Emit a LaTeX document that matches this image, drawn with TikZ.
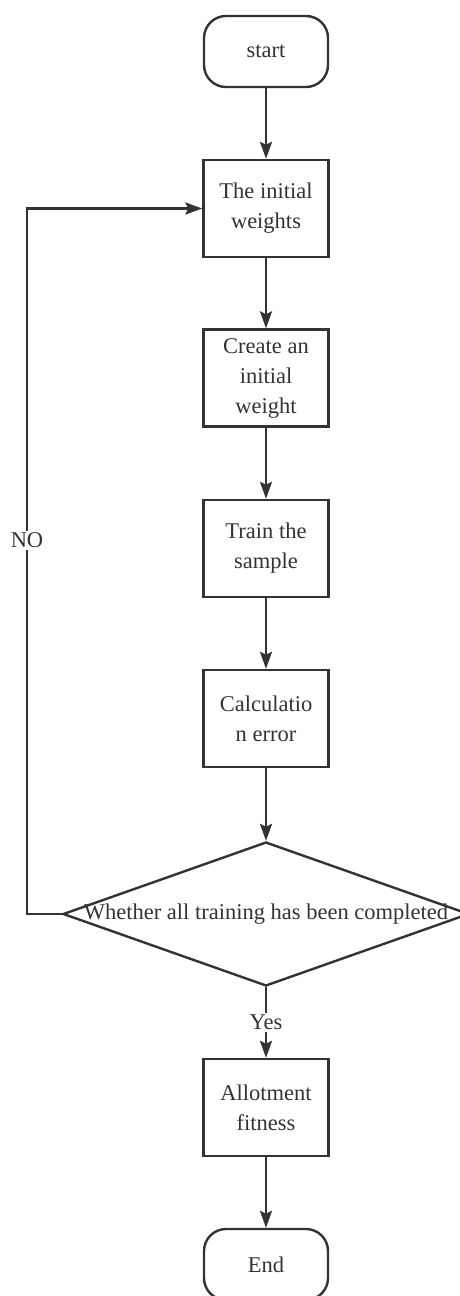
\documentclass[tikz,border=0pt]{standalone}
\usepackage{fontspec}
\setmainfont{Liberation Serif}
\usetikzlibrary{arrows.meta,shapes.geometric}
\definecolor{ink}{HTML}{333333}

\begin{document}
\begin{tikzpicture}[
  x=1pt,y=-1pt,
  >={Stealth[length=17pt,width=12pt,inset=3pt]},
  every node/.style={font=\fontsize{22.5}{30}\selectfont,text=ink},
  process/.style={rectangle,draw=ink,line width=2.4pt,minimum width=125pt,minimum height=97pt,align=center,inner sep=0pt},
  terminal/.style={rectangle,rounded corners=22pt,draw=ink,line width=2.4pt,minimum width=124pt,minimum height=71pt},
  decision/.style={diamond,draw=ink,line width=2.4pt,minimum width=406pt,minimum height=144pt,inner sep=0pt},
  flow/.style={->,draw=ink,line width=2.4pt}
]
\useasboundingbox (0,0) rectangle (460,1296);

\node[terminal] (start) at (266,51.5) {start};
\node[process] (init) at (266,208.5) {The initial\\weights};
\node[process] (create) at (266,378) {Create an\\initial\\weight};
\node[process] (train) at (266,548.5) {Train the\\sample};
\node[process] (calc) at (266,718.5) {Calculatio\\n error};
\node[decision] (check) at (266,914) {};
\node (checktext) at (check.center) {Whether all training has been completed};
\node[process] (allot) at (266,1107.5) {Allotment\\fitness};
\node[terminal] (end) at (266,1264.5) {End};

\coordinate (nobottom) at (27,914);
\coordinate (notop) at (27,208.5);

\draw[flow] (start) -- (init);
\draw[flow] (init) -- (create);
\draw[flow] (create) -- (train);
\draw[flow] (train) -- (calc);
\draw[flow] (calc) -- (check);
\draw[flow] (check) -- node[fill=white,inner sep=2pt] (yes) {Yes} (allot);
\draw[flow] (allot) -- (end);
\draw[flow] (check.west) -- (nobottom) -- node[pos=0.53,fill=white,inner sep=2pt] (no) {NO} (notop) -- (init.west);

\end{tikzpicture}
\end{document}
